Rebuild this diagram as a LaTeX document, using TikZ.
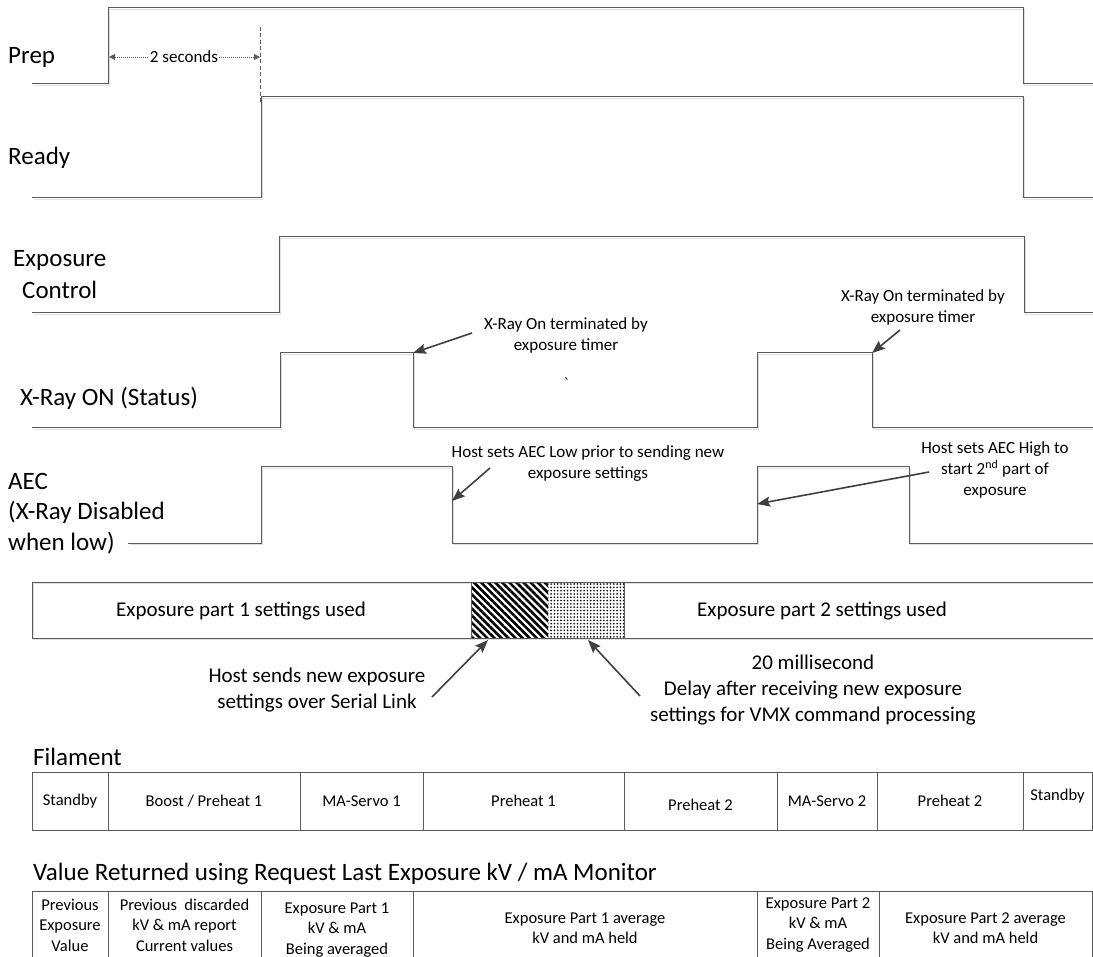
\documentclass[tikz,border=0pt]{standalone}
\usepackage{fontspec}
\setmainfont{Carlito}
\usetikzlibrary{arrows.meta,patterns.meta}
\definecolor{sigcol}{HTML}{5A5A5A}
\definecolor{arrcol}{HTML}{3F3F3F}
\begin{document}
\begin{tikzpicture}[x=1pt,y=-1pt,
  sig/.style={draw=sigcol, line width=1pt, line join=miter,
    preaction={draw=black!12, line width=1.3pt, transform canvas={shift={(1.6pt,-1.6pt)}}}},
  lbl/.style={font=\fontsize{25}{30}\selectfont, anchor=west, inner sep=0pt},
  ann/.style={font=\fontsize{17}{21}\selectfont, align=center, inner sep=0pt},
  bigtxt/.style={font=\fontsize{21}{26}\selectfont, align=center, inner sep=0pt},
  cell/.style={font=\fontsize{16.5}{20.5}\selectfont, align=center, inner sep=0pt},
  arr/.style={draw=arrcol, line width=1.6pt, -{Stealth[length=13pt,width=10pt,inset=2pt]}},
  tbl/.style={draw=sigcol, line width=1pt}
]
\useasboundingbox (0,0) rectangle (1093,957);

% ---------- signals ----------
\draw[sig] (32,84) -- (108,84) -- (108,8) -- (1023,8) -- (1023,84) -- (1093,84);
\draw[sig] (32,198) -- (261,198) -- (261,97) -- (1023,97) -- (1023,198) -- (1093,198);
\draw[sig] (32,313) -- (279,313) -- (279,237) -- (1024,237) -- (1024,313) -- (1093,313);
\draw[sig] (32,428) -- (280,428) -- (280,353) -- (413,353) -- (413,428) -- (757,428) -- (757,353) -- (872,353) -- (872,428) -- (1093,428);
\draw[sig] (128,543) -- (261,543) -- (261,467) -- (452,467) -- (452,543) -- (757,543) -- (757,467) -- (909,467) -- (909,543) -- (1093,543);

% ---------- signal labels ----------
\node[lbl] (lprep) at (8,57) {Prep};
\node[lbl] (lready) at (8,158) {Ready};
\node[lbl] (lexp1) at (13,260) {Exposure};
\node[lbl] (lexp2) at (22,290) {Control};
\node[lbl] (lxray) at (20,398) {X-Ray ON (Status)};
\node[lbl] (laec1) at (8,481) {AEC};
\node[lbl] (laec2) at (8,512) {(X-Ray Disabled};
\node[lbl] (laec3) at (8,543) {when low)};

% ---------- 2 seconds ----------
\coordinate (tsA) at (109,57);
\coordinate (tsB) at (260,57);
\draw[sigcol, line width=0.9pt, dash pattern=on 4pt off 2.5pt] (260,27) -- (260,102);
\draw[sigcol, line width=0.8pt, dash pattern=on 1pt off 1pt,
  {Triangle[length=6pt,width=6pt]}-{Triangle[length=6pt,width=6pt]}] (tsA) -- (tsB);
\node[ann, fill=white, inner sep=1pt] (tsec) at (184,57) {2 seconds};

% ---------- annotations ----------
\node[ann] (a1) at (566,335.5) {X-Ray On terminated by\\exposure timer};
\coordinate (a1t) at (472,333);
\coordinate (a1h) at (413,353);
\draw[arr] (a1t) -- (a1h);
\node[ann] (tick) at (566,384) {\textasciigrave};

\node[ann] (a2) at (923,307) {X-Ray On terminated by\\exposure timer};
\coordinate (a2t) at (900,330);
\coordinate (a2h) at (872,353);
\draw[arr] (a2t) -- (a2h);

\node[ann] (a3) at (588,464) {Host sets AEC Low prior to sending new\\exposure settings};
\coordinate (a3t) at (490,468);
\coordinate (a3h) at (452,501);
\draw[arr] (a3t) -- (a3h);

\node[ann] (a4) at (995,470) {Host sets AEC High to\\start 2\textsuperscript{nd} part of\\exposure};
\coordinate (a4t) at (929,472);
\coordinate (a4h) at (757,504);
\draw[arr] (a4t) -- (a4h);

% ---------- settings bar ----------
\draw[sig] (1093,582) -- (32,582) -- (32,638) -- (1093,638);
\path[pattern={Lines[angle=-45,distance=5pt,line width=2.6pt]}, pattern color=black] (471,582) rectangle (548,638);
\path[pattern={Dots[distance=3.3pt,radius=0.9pt]}, pattern color=black] (548,582) rectangle (624,638);
\draw[sigcol, line width=1pt] (471,582) rectangle (624,638);
\node[bigtxt] (s1) at (241,611) {Exposure part 1 settings used};
\node[bigtxt] (s2) at (822,611) {Exposure part 2 settings used};

\node[bigtxt] (h1) at (317,690) {Host sends new exposure\\settings over Serial Link};
\coordinate (h1t) at (432,697);
\coordinate (h1h) at (488,640);
\draw[arr] (h1t) -- (h1h);

\node[bigtxt] (h2) at (813,690) {20 millisecond\\Delay after receiving new exposure\\settings for VMX command processing};
\coordinate (h2t) at (640,696);
\coordinate (h2h) at (588,640);
\draw[arr] (h2t) -- (h2h);

% ---------- filament ----------
\node[lbl] (tfil) at (33,757) {Filament};
\draw[tbl] (32,772) rectangle (1092,830);
\foreach \xx in {108,300,423,624,777,877,1023} \draw[tbl] (\xx,772) -- (\xx,830);
\node[cell] (f1) at (70,801) {Standby};
\node[cell] (f2) at (204,801) {Boost / Preheat 1};
\node[cell] (f3) at (361.5,801) {MA-Servo 1};
\node[cell] (f4) at (523.5,801) {Preheat 1};
\node[cell] (f5) at (700.5,805) {Preheat 2};
\node[cell] (f6) at (827,801) {MA-Servo 2};
\node[cell] (f7) at (950,801) {Preheat 2};
\node[cell] (f8) at (1057.5,796) {Standby};

% ---------- value returned ----------
\node[lbl] (tval) at (33,874) {Value Returned using Request Last Exposure kV / mA Monitor};
\draw[tbl] (32,960) -- (32,891) -- (1092,891) -- (1092,960);
\foreach \xx in {108,261,413,757,879} \draw[tbl] (\xx,891) -- (\xx,960);
\node[cell] (v1) at (70,925) {Previous\\Exposure\\Value};
\node[cell] (v2) at (184.5,925) {Previous\ \ discarded\\kV \& mA report\\Current values};
\node[cell] (v3) at (337,930) {Exposure Part 1\\kV \& mA\\Being averaged};
\node[cell] (v4) at (585,928) {Exposure Part 1 average\\kV and mA held};
\node[cell] (v5) at (818,925) {Exposure Part 2\\kV \& mA\\Being Averaged};
\node[cell] (v6) at (985.5,928) {Exposure Part 2 average\\kV and mA held};
\end{tikzpicture}
\end{document}
